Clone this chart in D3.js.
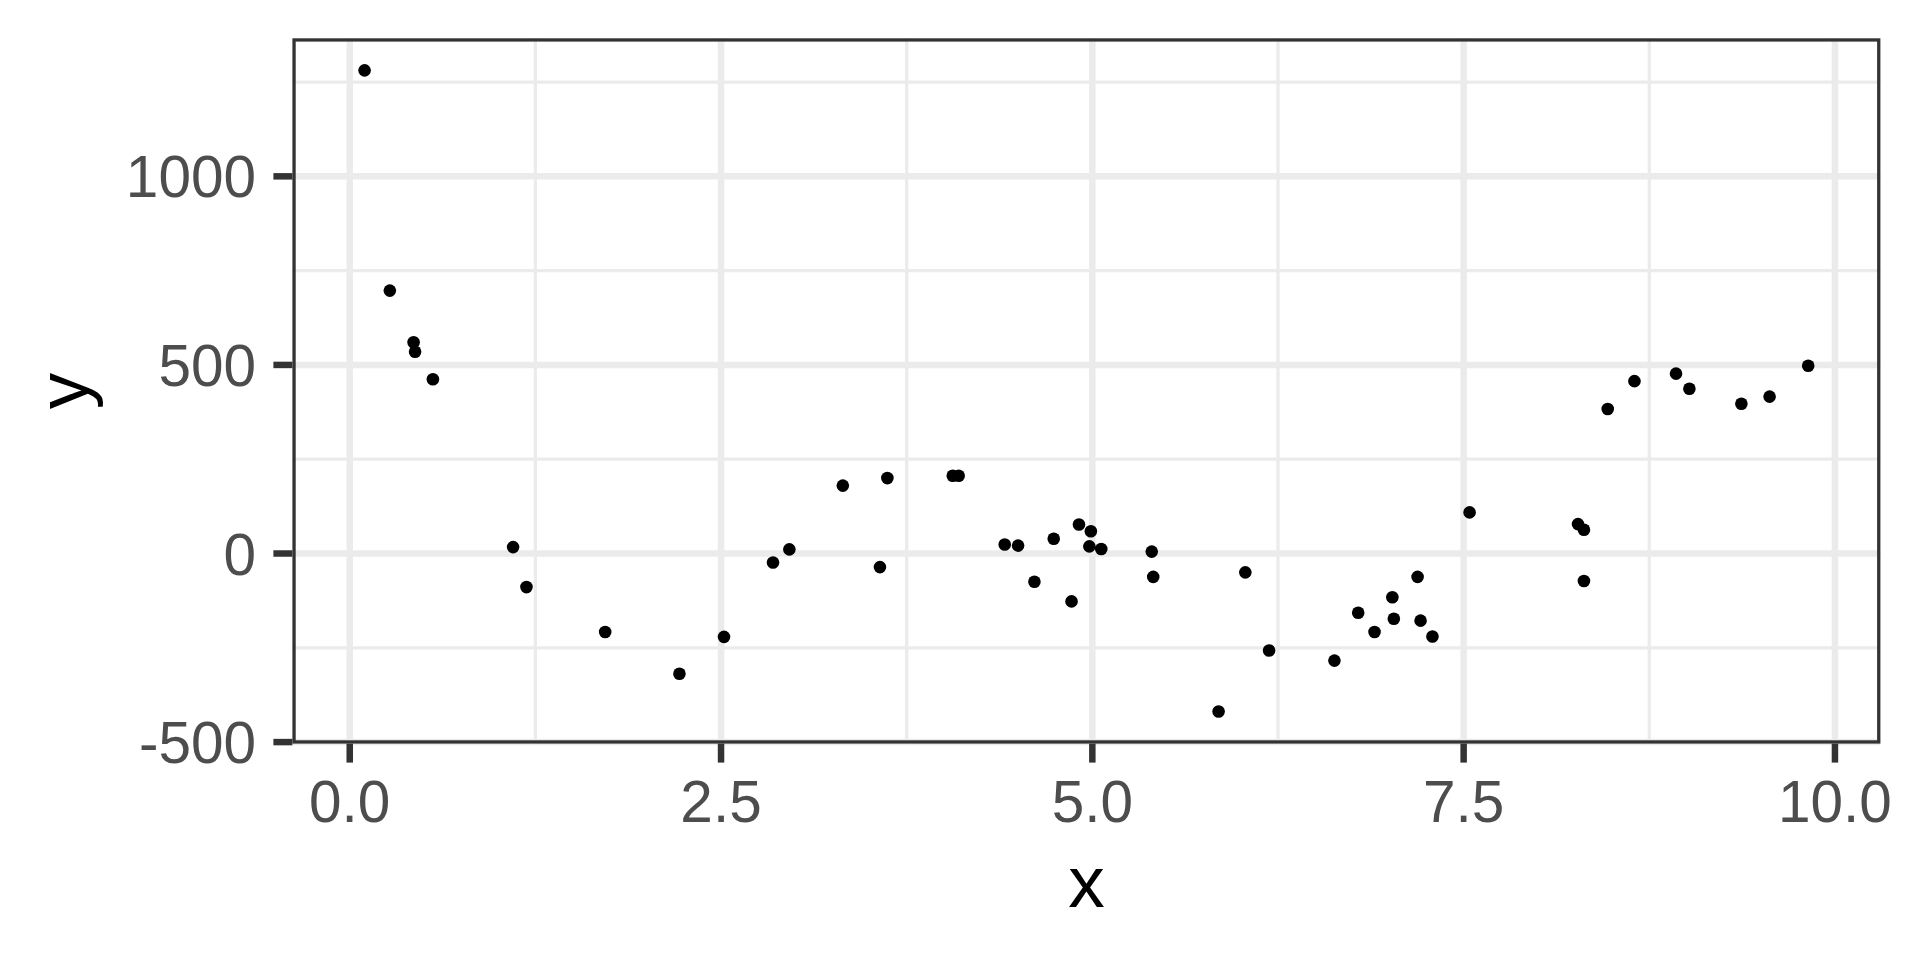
<!DOCTYPE html>
<html lang="en">
<head>
    <meta charset="UTF-8">
    <title>Scatter of y against x</title>
    <script src="https://d3js.org/d3.v7.min.js"></script>
    <style>
        body {
            margin: 0;
            background: white;
        }
        .grid-major {
            stroke: #ebebeb;
            stroke-width: 6.5px;
        }
        .grid-minor {
            stroke: #ebebeb;
            stroke-width: 3.3px;
        }
        .tick-mark {
            stroke: #333333;
            stroke-width: 6.5px;
        }
        .tick-label {
            font-family: "Liberation Sans", Arial, Helvetica, sans-serif;
            font-size: 58.5px;
            fill: #4d4d4d;
        }
        .axis-title {
            font-family: "Liberation Sans", Arial, Helvetica, sans-serif;
            font-size: 73px;
            fill: black;
        }
    </style>
</head>
<body>
    <svg width="1920" height="960"></svg>

    <script>
        // points
        const xValues = [0.10, 0.27, 0.43, 0.44, 0.56, 1.10, 1.19, 1.72, 2.22, 2.52,
                         2.85, 2.96, 3.32, 3.57, 3.62, 4.06, 4.10, 4.41, 4.50, 4.61,
                         4.74, 4.86, 4.91, 4.99, 4.98, 5.06, 5.40, 5.41, 5.85, 6.03,
                         6.19, 6.63, 6.79, 6.90, 7.02, 7.03, 7.19, 7.21, 7.29, 7.54,
                         8.27, 8.31, 8.31, 8.47, 8.65, 8.93, 9.02, 9.37, 9.56, 9.82];
        const yValues = [1281, 697, 560, 535, 462, 17, -89, -208, -319, -221,
                         -24, 11, 180, -36, 200, 206, 206, 24, 21, -75,
                         39, -127, 77, 59, 19, 12, 5, -62, -419, -50,
                         -257, -284, -157, -208, -116, -173, -62, -178, -220, 109,
                         78, 63, -73, 383, 457, 477, 437, 397, 416, 498];

        const xTicks = [0, 2.5, 5, 7.5, 10];
        const xTickLabels = ["0.0", "2.5", "5.0", "7.5", "10.0"];
        const xMinor = [1.25, 3.75, 6.25, 8.75];
        const yTicks = [-500, 0, 500, 1000];
        const yTickLabels = ["-500", "0", "500", "1000"];
        const yMinor = [-250, 250, 750, 1250];

        const panel = { left: 292.4, right: 1880.4, top: 38.3, bottom: 743.6 };

        // ggplot style 5% expansion on both sides
        function expand(values) {
            const [lo, hi] = d3.extent(values);
            const pad = (hi - lo) * 0.05;
            return [lo - pad, hi + pad];
        }

        const x = d3.scaleLinear().domain(expand(xValues)).range([panel.left, panel.right]);
        const y = d3.scaleLinear().domain(expand(yValues)).range([panel.bottom, panel.top]);

        const svg = d3.select("svg");
        const g = svg.append("g");

        g.append("rect")
            .attr("x", panel.left).attr("y", panel.top)
            .attr("width", panel.right - panel.left)
            .attr("height", panel.bottom - panel.top)
            .attr("fill", "white");

        // Grid lines
        g.selectAll(".gx-minor").data(xMinor).enter().append("line")
            .attr("class", "grid-minor")
            .attr("x1", d => x(d)).attr("x2", d => x(d))
            .attr("y1", panel.top).attr("y2", panel.bottom);
        g.selectAll(".gy-minor").data(yMinor).enter().append("line")
            .attr("class", "grid-minor")
            .attr("x1", panel.left).attr("x2", panel.right)
            .attr("y1", d => y(d)).attr("y2", d => y(d));
        g.selectAll(".gx-major").data(xTicks).enter().append("line")
            .attr("class", "grid-major")
            .attr("x1", d => x(d)).attr("x2", d => x(d))
            .attr("y1", panel.top).attr("y2", panel.bottom);
        g.selectAll(".gy-major").data(yTicks).enter().append("line")
            .attr("class", "grid-major")
            .attr("x1", panel.left).attr("x2", panel.right)
            .attr("y1", d => y(d)).attr("y2", d => y(d));

        // Points
        g.selectAll(".pt").data(xValues).enter().append("circle")
            .attr("class", "pt")
            .attr("cx", d => x(d))
            .attr("cy", (d, i) => y(yValues[i]))
            .attr("r", 6.3)
            .attr("fill", "black");

        // Panel border (only inner half of the line shows, like ggplot's clipped border)
        g.append("rect")
            .attr("x", panel.left + 1.65).attr("y", panel.top + 1.65)
            .attr("width", panel.right - panel.left - 3.3)
            .attr("height", panel.bottom - panel.top - 3.3)
            .attr("fill", "none")
            .attr("stroke", "#333333")
            .attr("stroke-width", 3.3);

        // Axis ticks and labels
        const tickLen = 19;
        g.selectAll(".xtick").data(xTicks).enter().append("line")
            .attr("class", "tick-mark")
            .attr("x1", d => x(d)).attr("x2", d => x(d))
            .attr("y1", panel.bottom).attr("y2", panel.bottom + tickLen);
        g.selectAll(".xlab").data(xTicks).enter().append("text")
            .attr("class", "tick-label")
            .attr("x", d => x(d))
            .attr("y", 822)
            .attr("text-anchor", "middle")
            .text((d, i) => xTickLabels[i]);

        g.selectAll(".ytick").data(yTicks).enter().append("line")
            .attr("class", "tick-mark")
            .attr("x1", panel.left - tickLen).attr("x2", panel.left)
            .attr("y1", d => y(d)).attr("y2", d => y(d));
        g.selectAll(".ylab").data(yTicks).enter().append("text")
            .attr("class", "tick-label")
            .attr("x", 256)
            .attr("y", d => y(d) + 21)
            .attr("text-anchor", "end")
            .text((d, i) => yTickLabels[i]);

        // Axis titles
        g.append("text")
            .attr("class", "axis-title")
            .attr("x", (panel.left + panel.right) / 2)
            .attr("y", 907)
            .attr("text-anchor", "middle")
            .text("x");

        g.append("text")
            .attr("class", "axis-title")
            .attr("transform", `translate(88, ${(panel.top + panel.bottom) / 2}) rotate(-90)`)
            .attr("text-anchor", "middle")
            .text("y");
    </script>
</body>
</html>
